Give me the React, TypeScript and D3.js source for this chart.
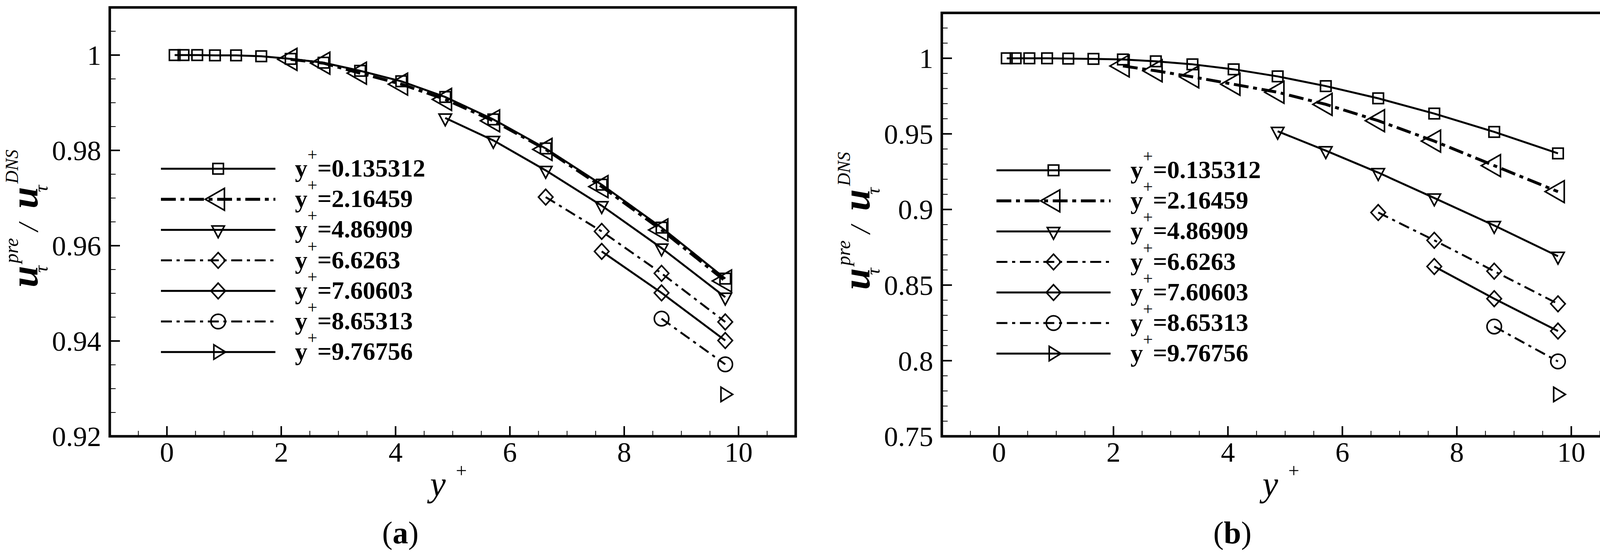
import { useEffect } from "react";
import * as d3 from "d3";

// y+ positions of the samples (shared by both panels)
const yPlusGrid = [
  0.135312, 0.29, 0.53, 0.84, 1.21, 1.65, 2.16459, 2.74, 3.38, 4.1, 4.86909,
  5.71, 6.6263, 7.60603, 8.65313, 9.76756,
];

// legend labels and the grid index where each series starts
const probeLabels = [
  "0.135312",
  "2.16459",
  "4.86909",
  "6.6263",
  "7.60603",
  "8.65313",
  "9.76756",
];
const probeStart = [0, 6, 10, 12, 13, 14, 15];

// panel (a)
const ratioA1 = [
  1.0, 1.0, 1.0, 0.99994, 0.99994, 0.99975, 0.9992, 0.9984, 0.9967, 0.9945,
  0.9912, 0.9865, 0.9804, 0.9728, 0.9638, 0.9531,
];
const ratioA2 = [
  0.9991, 0.9983, 0.9962, 0.9939, 0.9907, 0.9862, 0.9802, 0.9724, 0.9633,
  0.9526,
];
const ratioA3 = [0.9868, 0.9821, 0.9758, 0.9684, 0.9595, 0.9492];
const ratioA4 = [0.9702, 0.963, 0.9542, 0.944];
const ratioA5 = [0.9588, 0.9501, 0.9401];
const ratioA6 = [0.9447, 0.9351];
const ratioA7 = [0.9288];

// panel (b)
const ratioB1 = [
  1.0, 1.0, 1.0, 1.0, 0.9998, 0.9996, 0.9992, 0.998, 0.996, 0.9927, 0.988,
  0.9816, 0.9735, 0.9634, 0.9513, 0.9371,
];
const ratioB2 = [
  0.9949, 0.9917, 0.9877, 0.9828, 0.9775, 0.9695, 0.9587, 0.9452, 0.929,
  0.9118,
];
const ratioB3 = [0.9517, 0.9389, 0.9244, 0.9076, 0.8894, 0.8691];
const ratioB4 = [0.898, 0.8796, 0.8592, 0.8376];
const ratioB5 = [0.8623, 0.841, 0.8196];
const ratioB6 = [0.8226, 0.7995];
const ratioB7 = [0.7777];

const xTickValues = [0, 2, 4, 6, 8, 10];
const yTicksA = [0.92, 0.94, 0.96, 0.98, 1];
const yTicksB = [0.75, 0.8, 0.85, 0.9, 0.95, 1];

// series styling
const markerKinds = [
  "square",
  "triLeft",
  "triDown",
  "diamond",
  "diamond",
  "circle",
  "triRight",
];
const lineDash = [
  null,
  "38,12,10,12",
  null,
  "28,12,8,12",
  null,
  "28,12,8,12",
  null,
];
const lineWidth = [5, 7.5, 5, 5, 5, 5, 5];

const FONT = "'Liberation Serif', 'Times New Roman', serif";
const W = 4192;
const H = 1426;

const markerPath = (kind: string, cx: number, cy: number) => {
  const p = (pts: number[][]) =>
    "M" + pts.map(([dx, dy]) => `${cx + dx},${cy + dy}`).join("L") + "Z";
  switch (kind) {
    case "square":
      return p([
        [-13.5, -13.5],
        [13.5, -13.5],
        [13.5, 13.5],
        [-13.5, 13.5],
      ]);
    case "triLeft":
      return p([
        [-33, 0],
        [16, -28],
        [16, 28],
      ]);
    case "triDown":
      return p([
        [-16, -10],
        [16, -10],
        [0, 20],
      ]);
    case "triRight":
      return p([
        [-11, -18.5],
        [19, 0],
        [-11, 18.5],
      ]);
    case "diamond":
      return p([
        [0, -20],
        [18.5, 0],
        [0, 20],
        [-18.5, 0],
      ]);
    default:
      return "";
  }
};

const Marker = ({ kind, cx, cy }: { kind: string; cx: number; cy: number }) =>
  kind === "circle" ? (
    <circle cx={cx} cy={cy} r={18.5} fill="none" stroke="#000" strokeWidth={4} />
  ) : (
    <path
      d={markerPath(kind, cx, cy)}
      fill="none"
      stroke="#000"
      strokeWidth={4}
      strokeLinejoin="miter"
    />
  );

interface PanelConfig {
  left: number;
  right: number;
  top: number;
  bottom: number;
  yDomain: [number, number];
  yTicks: number[];
  yMinorStep: number;
  legendX0: number;
  legendX1: number;
  legendText: number;
  legendRow0: number;
  titleY: number;
  caption: string;
}

const panelA: PanelConfig = {
  left: 281,
  right: 2037,
  top: 19,
  bottom: 1117,
  yDomain: [0.92, 1.01],
  yTicks: yTicksA,
  yMinorStep: 0.005,
  legendX0: 412,
  legendX1: 705,
  legendText: 755,
  legendRow0: 432,
  titleY: 556,
  caption: "a",
};

const panelB: PanelConfig = {
  left: 2411,
  right: 4169,
  top: 33,
  bottom: 1117,
  yDomain: [0.75, 1.03],
  yTicks: yTicksB,
  yMinorStep: 0.01,
  legendX0: 2551,
  legendX1: 2843,
  legendText: 2894,
  legendRow0: 436,
  titleY: 562,
  caption: "b",
};

const fmt = d3.format("~g");

const Panel = ({ cfg, values }: { cfg: PanelConfig; values: number[][] }) => {
  const x = d3.scaleLinear().domain([-1, 11]).range([cfg.left, cfg.right]);
  const y = d3.scaleLinear().domain(cfg.yDomain).range([cfg.bottom, cfg.top]);

  const line = d3
    .line<[number, number]>()
    .x((d) => x(d[0]))
    .y((d) => y(d[1]));

  // minor ticks
  const xMinor = d3
    .range(-1, 22)
    .map((i) => i * 0.5)
    .filter((v) => v > -1 && v < 11 && !xTickValues.includes(v));
  const kLo = Math.round(cfg.yDomain[0] / cfg.yMinorStep);
  const kHi = Math.round(cfg.yDomain[1] / cfg.yMinorStep);
  const yMinor = d3
    .range(kLo + 1, kHi)
    .map((k) => +(k * cfg.yMinorStep).toFixed(4))
    .filter((v) => !cfg.yTicks.some((t) => Math.abs(t - v) < 1e-6));

  const offset = cfg.left - panelA.left;
  const titleX = 96 + offset;
  const rowGap = 78.2;
  const legendMid = (cfg.legendX0 + cfg.legendX1) / 2;

  return (
    <g>
      {/* curves */}
      {values.map((vals, si) => {
        const pts = vals.map(
          (v, i) => [yPlusGrid[probeStart[si] + i], v] as [number, number],
        );
        return (
          <g key={si}>
            {pts.length > 1 && (
              <path
                d={line(pts) ?? ""}
                fill="none"
                stroke="#000"
                strokeWidth={lineWidth[si]}
                strokeDasharray={lineDash[si] ?? undefined}
              />
            )}
            {pts.map((d, i) => (
              <Marker key={i} kind={markerKinds[si]} cx={x(d[0])} cy={y(d[1])} />
            ))}
          </g>
        );
      })}

      {/* legend */}
      {probeLabels.map((lab, i) => {
        const ry = cfg.legendRow0 + i * rowGap;
        return (
          <g key={lab}>
            <line
              x1={cfg.legendX0}
              x2={cfg.legendX1}
              y1={ry}
              y2={ry}
              stroke="#000"
              strokeWidth={lineWidth[i]}
              strokeDasharray={lineDash[i] ?? undefined}
            />
            <Marker kind={markerKinds[i]} cx={legendMid} cy={ry} />
            <text
              x={cfg.legendText}
              y={ry + 20}
              fontFamily={FONT}
              fontSize={64}
              fontWeight="bold"
            >
              y
              <tspan dy={-41} fontSize={45} fontWeight="normal">
                +
              </tspan>
              <tspan dy={41}>={lab}</tspan>
            </text>
          </g>
        );
      })}

      {/* ticks */}
      {xTickValues.map((v) => (
        <line
          key={"xM" + v}
          x1={x(v)}
          x2={x(v)}
          y1={cfg.bottom}
          y2={cfg.bottom - 26}
          stroke="#000"
          strokeWidth={4}
        />
      ))}
      {xMinor.map((v) => (
        <line
          key={"xm" + v}
          x1={x(v)}
          x2={x(v)}
          y1={cfg.bottom}
          y2={cfg.bottom - 14}
          stroke="#000"
          strokeWidth={2}
        />
      ))}
      {cfg.yTicks.map((v) => (
        <line
          key={"yM" + v}
          x1={cfg.left}
          x2={cfg.left + 26}
          y1={y(v)}
          y2={y(v)}
          stroke="#000"
          strokeWidth={4}
        />
      ))}
      {yMinor.map((v) => (
        <line
          key={"ym" + v}
          x1={cfg.left}
          x2={cfg.left + 15}
          y1={y(v)}
          y2={y(v)}
          stroke="#000"
          strokeWidth={2}
        />
      ))}

      {/* frame */}
      <rect
        x={cfg.left}
        y={cfg.top}
        width={cfg.right - cfg.left}
        height={cfg.bottom - cfg.top}
        fill="none"
        stroke="#000"
        strokeWidth={6.5}
      />

      {/* tick labels */}
      {xTickValues.map((v) => (
        <text
          key={"xl" + v}
          x={x(v)}
          y={1182}
          textAnchor="middle"
          fontFamily={FONT}
          fontSize={72}
        >
          {fmt(v)}
        </text>
      ))}
      {cfg.yTicks.map((v) => (
        <text
          key={"yl" + v}
          x={cfg.left - 22}
          y={y(v)}
          dy="0.35em"
          textAnchor="end"
          fontFamily={FONT}
          fontSize={72}
        >
          {fmt(v)}
        </text>
      ))}

      {/* x title */}
      <text
        x={x(5) - 58}
        y={1270}
        fontFamily={FONT}
        fontSize={90}
        fontStyle="italic"
      >
        y
      </text>
      <text x={x(5) + 8} y={1222} fontFamily={FONT} fontSize={50}>
        +
      </text>

      {/* y title */}
      <g
        transform={`translate(${titleX},${cfg.titleY}) rotate(-90)`}
        fontFamily={FONT}
        fontStyle="italic"
      >
        <text x={-180} y={0} fontSize={100} fontWeight="bold">
          u
        </text>
        <text x={-118} y={-50} fontSize={50}>
          pre
        </text>
        <text x={-142} y={26} fontSize={50}>
          τ
        </text>
        <text x={-36} y={0} fontSize={72}>
          /
        </text>
        <text x={22} y={0} fontSize={100} fontWeight="bold">
          u
        </text>
        <text x={86} y={-50} fontSize={46}>
          DNS
        </text>
        <text x={64} y={26} fontSize={50}>
          τ
        </text>
      </g>

      {/* caption */}
      <text
        x={1025 + offset}
        y={1391}
        textAnchor="middle"
        fontFamily={FONT}
        fontSize={80}
      >
        (<tspan fontWeight="bold">{cfg.caption}</tspan>)
      </text>
    </g>
  );
};

const App = () => {
  useEffect(() => {
    document.body.style.margin = "0";
  }, []);

  return (
    <svg
      width={W}
      height={H}
      viewBox={`0 0 ${W} ${H}`}
      style={{ display: "block", background: "#fff" }}
    >
      <rect width={W} height={H} fill="#fff" />
      <Panel
        cfg={panelA}
        values={[ratioA1, ratioA2, ratioA3, ratioA4, ratioA5, ratioA6, ratioA7]}
      />
      <Panel
        cfg={panelB}
        values={[ratioB1, ratioB2, ratioB3, ratioB4, ratioB5, ratioB6, ratioB7]}
      />
    </svg>
  );
};

export default App;
